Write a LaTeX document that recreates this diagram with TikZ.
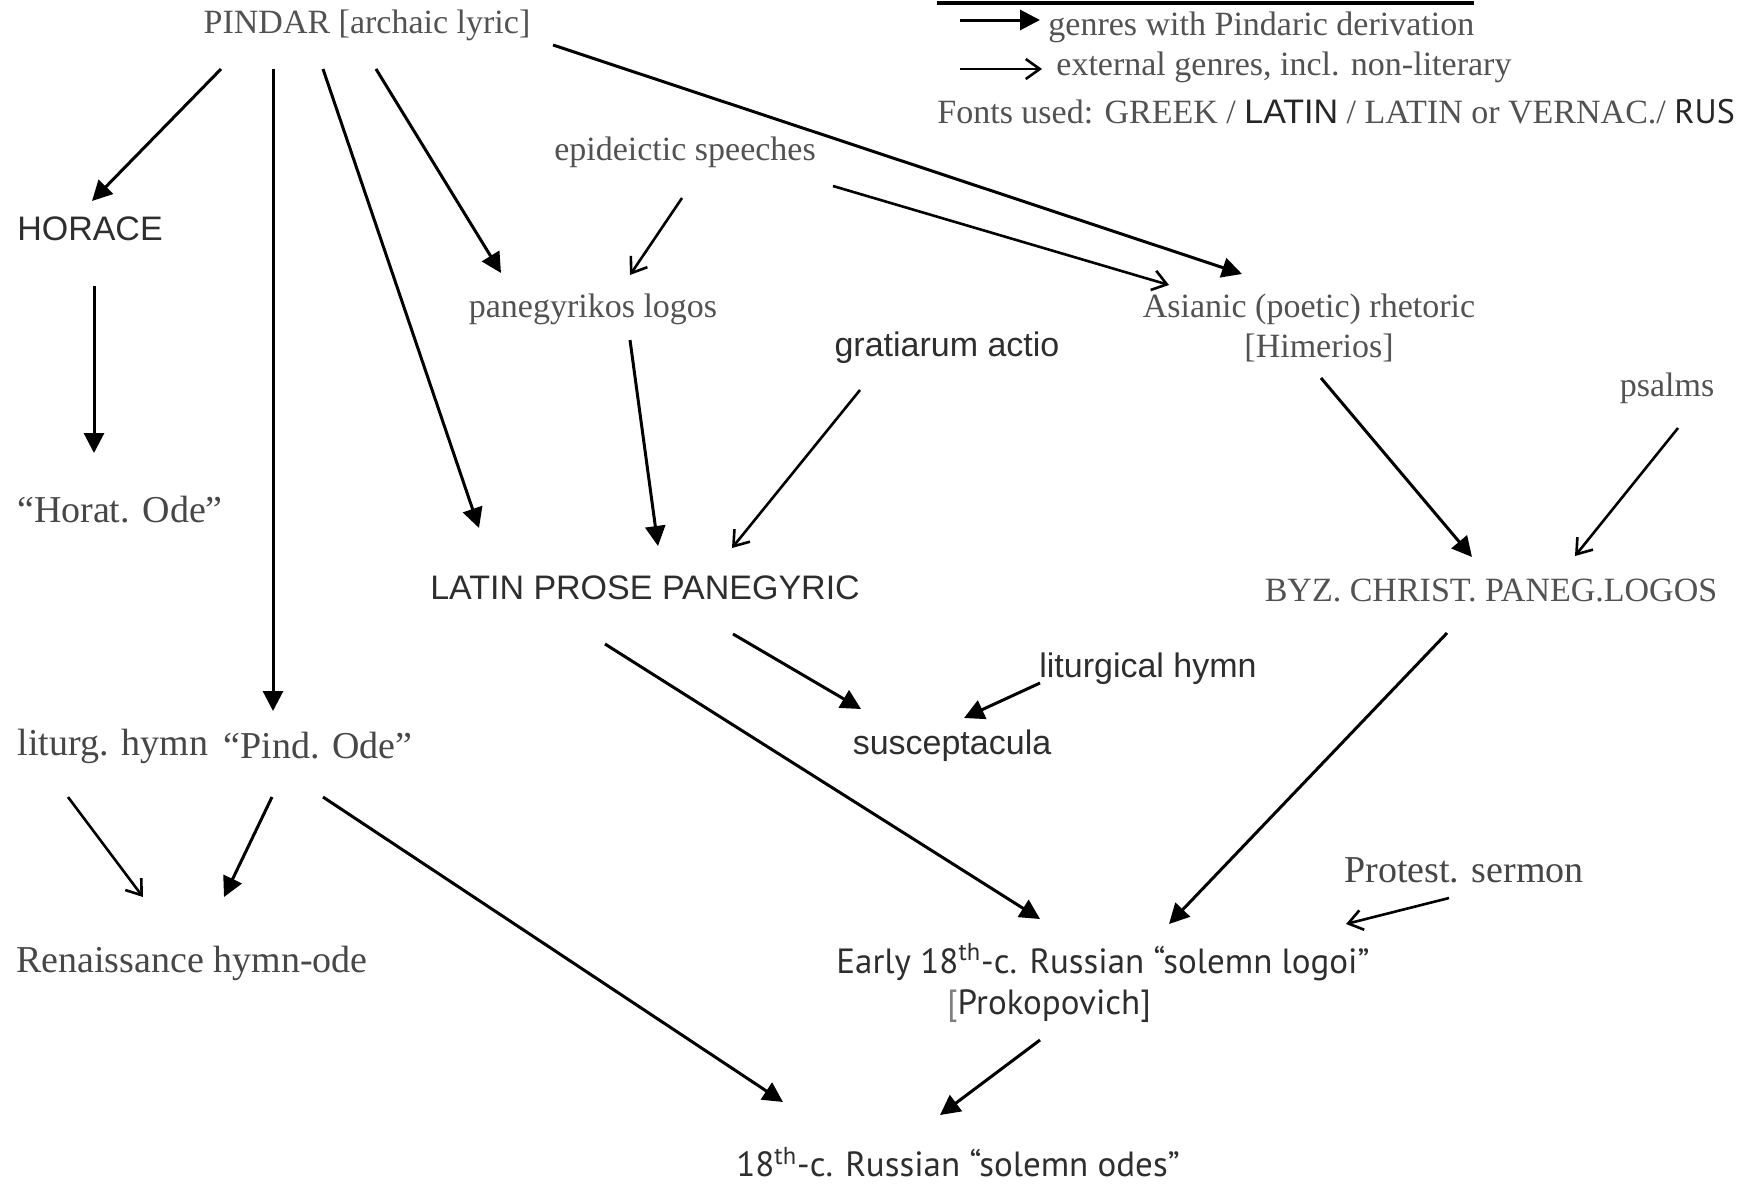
\documentclass[tikz,border=0pt]{standalone}
\usepackage{fontspec}
\setmainfont{Liberation Serif}
\setsansfont{Liberation Sans}
\newfontfamily\rusfont{PT Sans}
\usetikzlibrary{arrows.meta}
\begin{document}
\begin{tikzpicture}[x=0.5pt,y=-0.5pt,
  gk/.style={font=\fontsize{17}{20}\selectfont, text=black!68, inner sep=0},
  vn/.style={font=\fontsize{19}{22}\selectfont, text=black!72, inner sep=0},
  lt/.style={font=\sffamily\fontsize{17}{20}\selectfont, text=black!82, inner sep=0},
  ru/.style={font=\rusfont\fontsize{17.5}{20}\selectfont, text=black!82, inner sep=0},
  pin/.style={line width=1.5pt, -{Triangle[length=10pt,width=10pt]}},
  ext/.style={line width=1.3pt, -{Straight Barb[length=7pt,width=10pt,line width=1.3pt]}},
]
\useasboundingbox (0,0) rectangle (1754,1184);
\clip (0,0) rectangle (1754,1184);
\fill[white] (0,0) rectangle (1754,1184);

% nodes
\node[gk] (pindar) at (367,25) {PINDAR [archaic lyric]};
\node[gk] (epid) at (685,152) {epideictic speeches};
\node[lt] (horace) at (90,229) {HORACE};
\node[gk] (paneg) at (593,309) {panegyrikos logos};
\node[lt] (grat) at (947,348) {gratiarum actio};
\node[gk] (asian) at (1309,309) {Asianic (poetic) rhetoric};
\node[gk] (himer) at (1319,348) {[Himerios]};
\node[gk] (psalms) at (1667,388) {psalms};
\node[vn] (horat) at (120,510) {“Horat. Ode”};
\node[lt] (lpp) at (645,588) {LATIN PROSE PANEGYRIC};
\node[gk] (byz) at (1491,590) {BYZ. CHRIST. PANEG.LOGOS};
\node[lt] (lhymn) at (1148,669) {liturgical hymn};
\node[lt] (susc) at (952,746) {susceptacula};
\node[vn] (liturg) at (113,746) {liturg. hymn};
\node[vn] (pind) at (318,746) {“Pind. Ode”};
\node[vn] (prot) at (1464,870) {Protest. sermon};
\node[vn] (renh) at (192,963) {Renaissance hymn-ode};
\node[ru] (early) at (1103,962) {Early 18\textsuperscript{th}-c. Russian “solemn logoi”};
\node[ru] (prok) at (1049,1006) {{\color{black!50}[}Prokopovich]};
\node[ru] (odes) at (958,1162) {18\textsuperscript{th}-c. Russian “solemn odes”};

% legend
\coordinate (lgl) at (937,3); \coordinate (lgr) at (1474,3);
\draw[line width=1.6pt] (lgl) -- (lgr);
\coordinate (la1) at (960,20); \coordinate (lb1) at (1040,20);
\draw[pin] (la1) -- (lb1);
\node[gk,anchor=west] (leg1) at (1048,27) {genres with Pindaric derivation};
\coordinate (la2) at (960,69); \coordinate (lb2) at (1042,69);
\draw[ext] (la2) -- (lb2);
\node[gk,anchor=west] (leg2) at (1056,67) {external genres, incl. non-literary};
\node[gk,anchor=west] (fonts) at (937,112) {Fonts used: GREEK / {\sffamily\color{black!85}LATIN} / LATIN or VERNAC./ {\rusfont\color{black!85}RUS}};

% connector end points
\coordinate (a1) at (221,69);   \coordinate (b1) at (92,201);
\coordinate (a2) at (273,69);   \coordinate (b2) at (273,711);
\coordinate (a3) at (323,69);   \coordinate (b3) at (479,528);
\coordinate (a4) at (376,69);   \coordinate (b4) at (501,273);
\coordinate (a5) at (553,45);   \coordinate (b5) at (1242,274);
\coordinate (a6) at (682,198);  \coordinate (b6) at (630,275);
\coordinate (a7) at (833,186);  \coordinate (b7) at (1169,285);
\coordinate (a8) at (94,286);   \coordinate (b8) at (94,453);
\coordinate (a9) at (630,340);  \coordinate (b9) at (658,546);
\coordinate (a10) at (860,390); \coordinate (b10) at (732,548);
\coordinate (a11) at (1321,378); \coordinate (b11) at (1472,557);
\coordinate (a12) at (1678,428); \coordinate (b12) at (1575,556);
\coordinate (a13) at (733,634); \coordinate (b13) at (861,709);
\coordinate (a14) at (1040,683); \coordinate (b14) at (964,718);
\coordinate (a15) at (605,644); \coordinate (b15) at (1040,919);
\coordinate (a16) at (1447,633); \coordinate (b16) at (1169,924);
\coordinate (a17) at (1449,898); \coordinate (b17) at (1346,924);
\coordinate (a18) at (68,797);  \coordinate (b18) at (143,897);
\coordinate (a19) at (272,797); \coordinate (b19) at (224,897);
\coordinate (a20) at (323,797); \coordinate (b20) at (783,1102);
\coordinate (a21) at (1040,1040); \coordinate (b21) at (940,1115);

% connectors
\draw[pin] (a1) -- (b1);
\draw[pin] (a2) -- (b2);
\draw[pin] (a3) -- (b3);
\draw[pin] (a4) -- (b4);
\draw[pin] (a5) -- (b5);
\draw[ext] (a6) -- (b6);
\draw[ext] (a7) -- (b7);
\draw[pin] (a8) -- (b8);
\draw[pin] (a9) -- (b9);
\draw[ext] (a10) -- (b10);
\draw[pin] (a11) -- (b11);
\draw[ext] (a12) -- (b12);
\draw[pin] (a13) -- (b13);
\draw[pin] (a14) -- (b14);
\draw[pin] (a15) -- (b15);
\draw[pin] (a16) -- (b16);
\draw[ext] (a17) -- (b17);
\draw[ext] (a18) -- (b18);
\draw[pin] (a19) -- (b19);
\draw[pin] (a20) -- (b20);
\draw[pin] (a21) -- (b21);
\end{tikzpicture}
\end{document}
